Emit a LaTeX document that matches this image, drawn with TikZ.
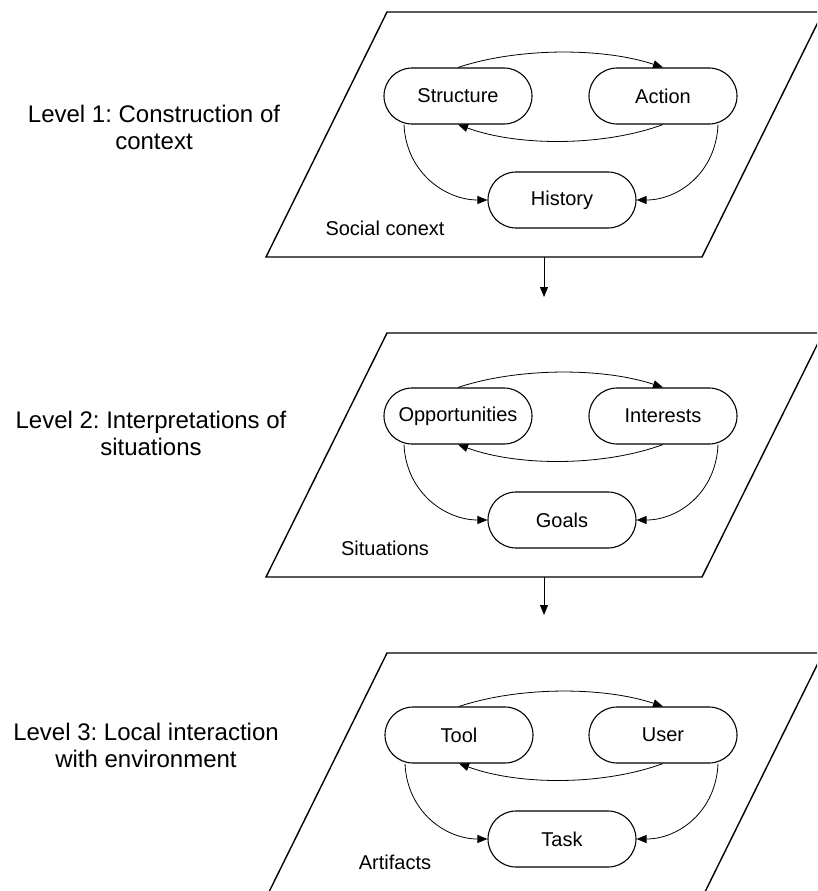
\documentclass[tikz,border=0pt]{standalone}
\usepackage{fontspec}
\setmainfont{Liberation Sans}
\usetikzlibrary{arrows.meta,calc}
\frenchspacing
\begin{document}
\begin{tikzpicture}[x=1pt,y=-1pt,
  panel/.style={line width=1.4pt, line join=miter},
  stad/.style={draw, line width=1.1pt, rounded corners=28pt, minimum width=148pt, minimum height=56pt, inner sep=0pt, font=\fontsize{20}{24}\selectfont},
  lvl/.style={align=center, font=\fontsize{24}{27}\selectfont},
  ctx/.style={font=\fontsize{20}{24}\selectfont},
  link/.style={line width=0.8pt, -{Triangle[length=10pt,width=8pt]}},
]
\useasboundingbox (0,0) rectangle (817,891);
\clip (0,0) rectangle (817,891);

% panels
\draw[panel] (387,12) -- (823,12) -- (702,257) -- (266,257) -- cycle;
\draw[panel] (387,333) -- (823,333) -- (702,577) -- (266,577) -- cycle;
\draw[panel] (387,653) -- (823,653) -- (702,898) -- (266,898) -- cycle;

% level labels
\node[lvl] (l1) at (154,127) {Level 1: Construction of\\context};
\node[lvl] (l2) at (151,433) {Level 2: Interpretations of\\situations};
\node[lvl] (l3) at (146,745) {Level 3: Local interaction\\with environment};

% panel 1
\node[stad] (s1) at (458,96) {Structure};
\node[stad] (a1) at (663,96) {Action};
\node[stad] (h1) at (562,200) {History};
\node[ctx] (c1) at (385,228) {Social conext};

% panel 2
\node[stad] (s2) at (458,416) {Opportunities};
\node[stad] (a2) at (663,416) {Interests};
\node[stad] (h2) at (562,520) {Goals};
\node[ctx] (c2) at (385,548) {Situations};

% panel 3
\node[stad] (s3) at (459,735) {Tool};
\node[stad] (a3) at (663,735) {User};
\node[stad] (h3) at (562,839) {Task};
\node[ctx] (c3) at (395,862) {Artifacts};

\foreach \i in {1,2,3}{
  \draw[link] (s\i.north) .. controls ($(s\i.north)+(60,-20)$) and ($(a\i.north)+(-60,-20)$) .. (a\i.north);
  \draw[link] (a\i.south) .. controls ($(a\i.south)+(-60,22)$) and ($(s\i.south)+(60,22)$) .. (s\i.south);
  \draw[link] ([xshift=-54pt]s\i.south) .. controls +(2,48) and +(-42,0) .. (h\i.west);
  \draw[link] ([xshift=55pt]a\i.south) .. controls +(-2,48) and +(42,0) .. (h\i.east);
}

% between panels
\coordinate (p1b) at (544,257);
\coordinate (p2t) at (544,297);
\coordinate (p2b) at (544,577);
\coordinate (p3t) at (544,615);
\draw[link] (p1b) -- (p2t);
\draw[link] (p2b) -- (p3t);
\end{tikzpicture}
\end{document}
